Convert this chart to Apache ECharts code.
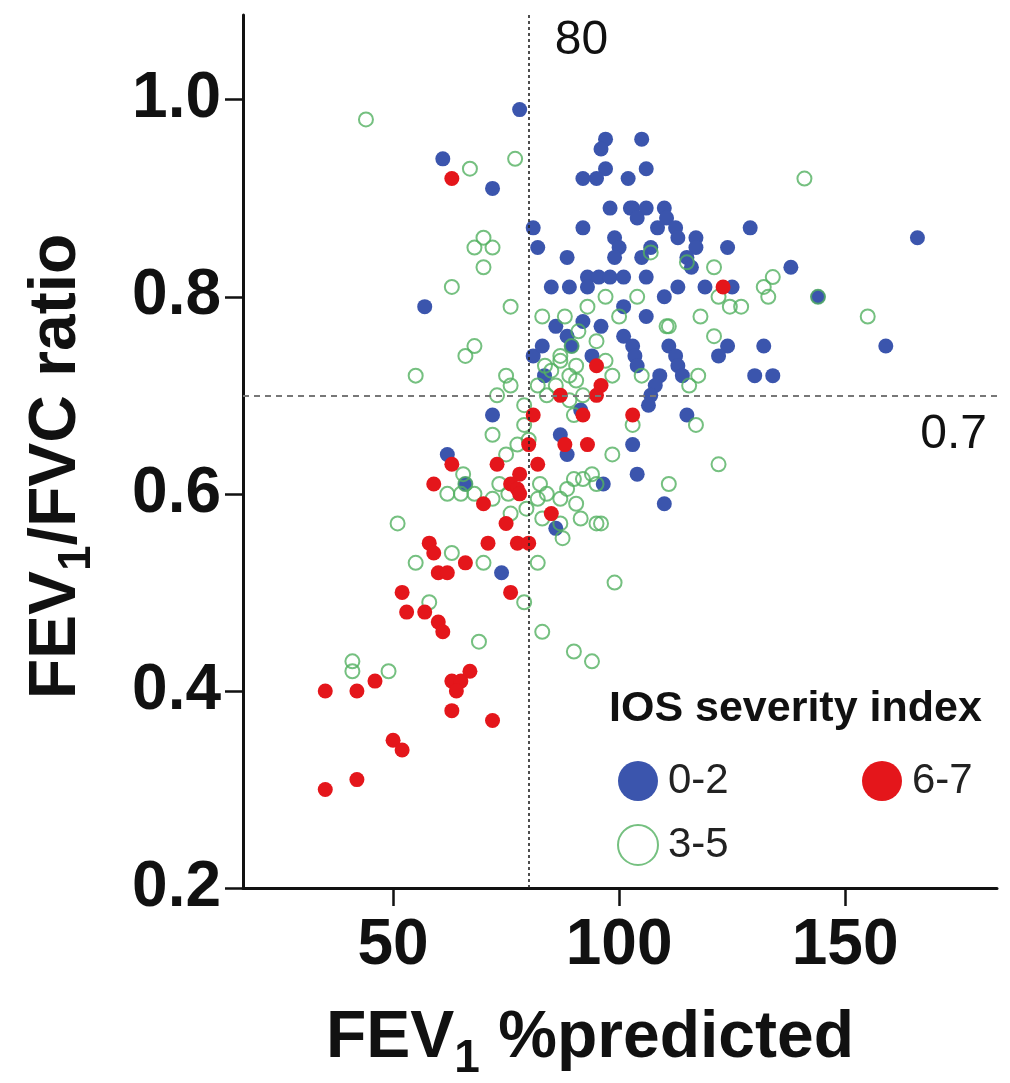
<!DOCTYPE html>
<html><head><meta charset="utf-8">
<script src="https://cdn.jsdelivr.net/npm/echarts@6/dist/echarts.min.js"></script>
<style>html,body{margin:0;padding:0;background:#fff}#c{width:1010px;height:1083px}</style>
</head><body><div id="c"></div>
<script>
// ---------- data ----------
const groupNames = ['0-2', '3-5', '6-7'];
const legendTitle = 'IOS severity index';
const xTicks = [50, 100, 150];
const yTicks = [0.2, 0.4, 0.6, 0.8, 1.0];
const xRange = [16.8, 183.6];
const yRange = [0.2, 1.086];
const cutoffFEV1 = 80;
const cutoffRatio = 0.7;

// IOS severity 0-2 (blue, filled)
const blue02 = [
  [78,0.99],[61,0.94],[72,0.91],[97,0.96],[96,0.95],[97,0.93],[95,0.92],[92,0.92],[102,0.92],
  [98,0.89],[102.5,0.89],[81,0.87],[92,0.87],[82,0.85],[99,0.86],[100,0.85],[99,0.84],[88.5,0.84],
  [93,0.82],[95.5,0.82],[98,0.82],[101,0.82],[85,0.81],[89,0.81],[93,0.81],[101,0.79],
  [105,0.96],[106,0.93],[103,0.89],[106,0.89],[104,0.88],[110,0.89],[108.5,0.87],[110.5,0.88],
  [112.5,0.87],[113,0.86],[117,0.86],[117,0.85],[129,0.87],[124,0.85],[107,0.85],[105,0.84],
  [115,0.84],[116,0.83],[106,0.82],[113,0.81],[119,0.81],[125,0.81],[110,0.80],[106,0.78],
  [166,0.86],[138,0.83],[144,0.80],[159,0.75],[132,0.75],[130,0.72],[134,0.72],[124,0.75],[122,0.74],
  [115,0.68],[110,0.59],[104,0.62],[103,0.65],[96.5,0.61],[101,0.76],[103,0.75],[103.5,0.74],[104,0.73],
  [109,0.72],[108,0.71],[107,0.70],[106.5,0.69],[111,0.75],[112.5,0.74],[113,0.73],[114,0.72],
  [72,0.68],[91.5,0.685],[87,0.66],[88.5,0.64],[86,0.565],[66,0.61],[81,0.74],[83,0.75],[86,0.77],
  [88.5,0.76],[89.5,0.75],[92,0.775],[96,0.77],[94,0.74],[83.5,0.72],[57,0.79],[62,0.64],[74,0.52]
];

// IOS severity 3-5 (green, open)
const green35 = [
  [44,0.98],[67,0.93],[77,0.94],[70,0.86],[68,0.85],[72,0.85],[70,0.83],[63,0.81],[76,0.79],
  [68,0.75],[66,0.74],[55,0.72],[75,0.72],[76,0.71],[73,0.70],[79,0.69],[72,0.66],
  [75,0.64],[77.5,0.65],[80,0.655],[79,0.67],[65.5,0.62],[62,0.60],[65,0.60],[68,0.60],[73.5,0.61],[75.5,0.60],
  [51,0.57],[55,0.53],[63,0.54],[70,0.53],[58,0.49],[82,0.53],[99,0.51],[72,0.595],
  [76,0.58],[79.5,0.585],[82,0.595],[79,0.49],[83,0.46],[69,0.45],[90,0.44],[94,0.43],[41,0.43],[41,0.42],[49,0.42],
  [82.5,0.61],[84,0.60],[87,0.595],[88.5,0.605],[90.5,0.59],[83,0.575],[87,0.57],[92,0.615],[94,0.62],
  [95,0.61],[91.5,0.575],[95,0.57],[87.5,0.555],[98.5,0.64],[90,0.615],
  [83.6,0.73],[87,0.74],[89,0.72],[86,0.71],[90.5,0.715],[98.5,0.72],[82,0.71],[89,0.695],
  [83,0.78],[88,0.78],[93,0.79],[97,0.80],[100,0.78],[104,0.80],[111,0.77],[118,0.78],[121,0.83],
  [122,0.80],[124.5,0.79],[127,0.79],[132,0.81],[134,0.82],[133,0.80],[107,0.845],[115,0.835],
  [141,0.92],[155,0.78],[121,0.76],[117.5,0.72],[115.5,0.71],[117,0.67],[122,0.63],[111,0.61],
  [103,0.67],[96,0.57],[105,0.72],[110.5,0.77],[89.5,0.75],[87,0.735],[90.5,0.73],[84,0.70],[90,0.68],
  [91,0.765],[95,0.755],[97,0.735],[92,0.70],[85,0.725],[144,0.80],[66,0.61]
];

// IOS severity 6-7 (red, filled)
const red67 = [
  [63,0.92],[123,0.81],[81,0.68],[80,0.65],[82,0.63],[73,0.63],[78,0.62],[76,0.61],[77.5,0.605],[78,0.60],
  [70,0.59],[75,0.57],[71,0.55],[77.5,0.55],[80,0.55],[85,0.58],[87,0.70],[95,0.73],[96,0.71],[95,0.70],
  [92,0.68],[88,0.65],[93,0.65],[103,0.68],[63,0.63],[59,0.61],[58,0.55],[59,0.54],[60,0.52],[62,0.52],
  [66,0.53],[52,0.50],[76,0.50],[53,0.48],[57,0.48],[60,0.47],[61,0.46],[46,0.41],[35,0.40],[42,0.40],
  [63,0.41],[65,0.41],[67,0.42],[64,0.40],[63,0.38],[72,0.37],[50,0.35],[52,0.34],[42,0.31],[35,0.30]
];

// ---------- chart ----------
const FONT = '"Liberation Sans", Arial, Helvetica, sans-serif';
const BLUE = '#3b55ad', GREEN = '#52b060', RED = '#e4161b';
const chart = echarts.init(document.getElementById('c'), null, {renderer: 'canvas'});

const nameRich = {
  m: {fontFamily: FONT, fontSize: 66, fontWeight: 'bold', color: '#111', lineHeight: 66, verticalAlign: 'top'},
  s: {fontFamily: FONT, fontSize: 46, fontWeight: 'bold', color: '#111', lineHeight: 46, verticalAlign: 'top', padding: [30, 0, 0, 0]}
};

const option = {
  animation: false,
  backgroundColor: '#ffffff',
  grid: {left: 243, right: 13, top: 15, bottom: 195, containLabel: false, outerBoundsMode: 'none'},
  title: {
    text: legendTitle, left: 609, top: 688, padding: 0,
    textStyle: {fontFamily: FONT, fontSize: 43, fontWeight: 'bold', color: '#111'}
  },
  legend: [
    {data: [groupNames[0], groupNames[1]], orient: 'vertical', left: 617, top: 760, padding: 0,
     itemWidth: 40, itemHeight: 40, itemGap: 22, icon: 'circle', selectedMode: false,
     textStyle: {fontFamily: FONT, fontSize: 42, color: '#222', padding: [0, 0, 0, 5]}},
    {data: [groupNames[2]], orient: 'vertical', left: 862, top: 760, padding: 0,
     itemWidth: 40, itemHeight: 40, itemGap: 22, icon: 'circle', selectedMode: false,
     textStyle: {fontFamily: FONT, fontSize: 42, color: '#222', padding: [0, 0, 0, 5]}}
  ],
  xAxis: {
    type: 'value', min: xRange[0], max: xRange[1],
    splitLine: {show: false},
    axisLine: {show: true, onZero: false, lineStyle: {color: '#111', width: 3}},
    axisTick: {show: true, customValues: xTicks, length: 18, lineStyle: {color: '#111', width: 2.5}},
    axisLabel: {customValues: xTicks, margin: 26, fontFamily: FONT, fontSize: 64, fontWeight: 'bold', color: '#111'},
    name: '{m|FEV}{s|1}{m| %predicted}', nameLocation: 'middle', nameGap: 118,
    nameTextStyle: {fontFamily: FONT, fontSize: 66, fontWeight: 'bold', color: '#111',
      padding: [0, 60, 0, 0], rich: nameRich}
  },
  yAxis: {
    type: 'value', min: yRange[0], max: yRange[1],
    splitLine: {show: false},
    axisLine: {show: true, onZero: false, lineStyle: {color: '#111', width: 3}},
    axisTick: {show: true, customValues: yTicks, length: 18, lineStyle: {color: '#111', width: 2.5}},
    axisLabel: {customValues: yTicks, margin: 22, fontFamily: FONT, fontSize: 64, fontWeight: 'bold', color: '#111',
      formatter: v => Number(v).toFixed(1)},
    name: '{m|FEV}{s|1}{m|/FVC ratio}', nameLocation: 'middle', nameGap: 153,
    nameTextStyle: {fontFamily: FONT, fontSize: 66, fontWeight: 'bold', color: '#111',
      padding: [0, 30, 0, 0], rich: nameRich}
  },
  series: [
    {name: groupNames[0], type: 'scatter', data: blue02, symbol: 'circle', symbolSize: 15, z: 2,
     itemStyle: {color: BLUE, opacity: 1},
     markLine: {silent: true, symbol: 'none', label: {show: false},
       data: [
         {xAxis: cutoffFEV1, lineStyle: {color: '#222', width: 1.6, type: [3, 3]}},
         {yAxis: cutoffRatio, lineStyle: {color: '#777', width: 2, type: [6, 5]}}
       ]}},
    {name: groupNames[1], type: 'scatter', data: green35, symbol: 'circle', symbolSize: 14, z: 3,
     itemStyle: {color: 'rgba(255,255,255,0)', borderColor: GREEN, borderWidth: 2}},
    {name: groupNames[2], type: 'scatter', data: red67, symbol: 'circle', symbolSize: 15, z: 4,
     itemStyle: {color: RED, opacity: 1}}
  ]
};
chart.setOption(option);

// cut-off value labels, positioned from the axis scales
const pTop = chart.convertToPixel({gridIndex: 0}, [cutoffFEV1, yRange[1]]);
const pRatio = chart.convertToPixel({gridIndex: 0}, [xRange[1], cutoffRatio]);
chart.setOption({
  graphic: [
    {type: 'text', x: pTop[0] + 26, y: pTop[1] + 26,
     style: {text: String(cutoffFEV1), font: '48px ' + FONT, fill: '#111', align: 'left', verticalAlign: 'middle'}},
    {type: 'text', x: pRatio[0] - 10, y: pRatio[1] + 39,
     style: {text: cutoffRatio.toFixed(1), font: '48px ' + FONT, fill: '#111', align: 'right', verticalAlign: 'middle'}}
  ]
});
</script>
</body></html>
